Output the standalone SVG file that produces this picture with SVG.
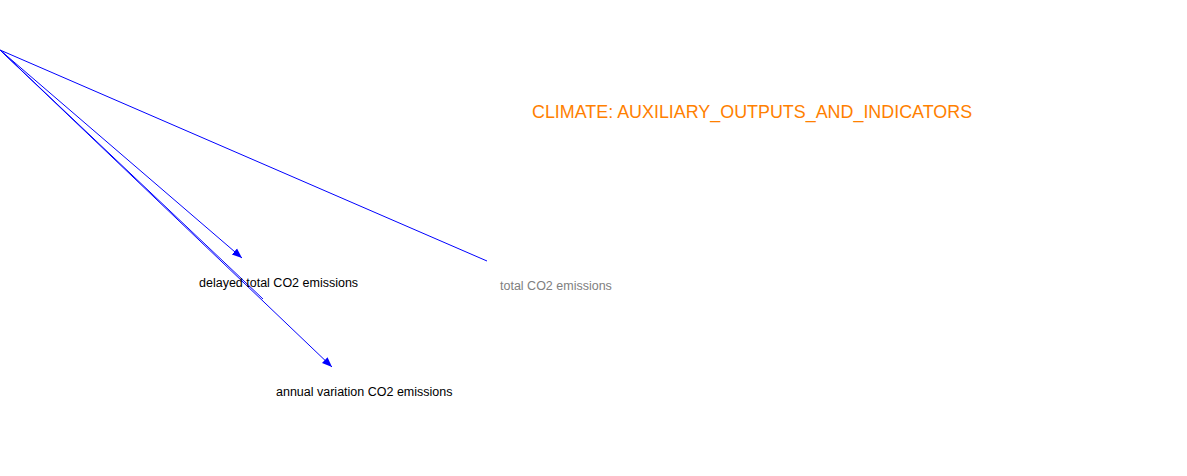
<svg xmlns="http://www.w3.org/2000/svg" width="1187" height="476" viewBox="0 0 1187 476">
<defs>
<style>
.edge{stroke:#0000ff;stroke-width:1;fill:none}
.lbl{font-family:"Liberation Sans",Arial,sans-serif;font-size:12.5px;fill:#000}
.shadow{fill:#808080}
.title{font-family:"Liberation Sans",Arial,sans-serif;font-size:17.9px;fill:#ff8000}
</style>
<marker id="arr" viewBox="0 0 10 10" refX="10" refY="5" markerWidth="10" markerHeight="10" markerUnits="userSpaceOnUse" orient="auto">
<path d="M0,1 L10,5 L0,9 Z" fill="#0000ff"/>
</marker>
</defs>
<rect width="1187" height="476" fill="#fff"/>
<g id="connectors">
<line class="edge" x1="0" y1="50" x2="487" y2="261"/>
<line class="edge" x1="0" y1="50" x2="242" y2="258" marker-end="url(#arr)"/>
<line class="edge" x1="0" y1="50" x2="263" y2="299"/>
<line class="edge" x1="0" y1="50" x2="332" y2="367" marker-end="url(#arr)"/>
</g>
<g id="title"><text class="title" x="532" y="118">CLIMATE: AUXILIARY_OUTPUTS_AND_INDICATORS</text></g>
<g id="delayed_total_co2_emissions"><text class="lbl" x="199" y="287">delayed total CO2 emissions</text></g>
<g id="annual_variation_co2_emissions"><text class="lbl" x="276" y="396">annual variation CO2 emissions</text></g>
<g id="total_co2_emissions"><text class="lbl shadow" x="500" y="290">total CO2 emissions</text></g>
</svg>
